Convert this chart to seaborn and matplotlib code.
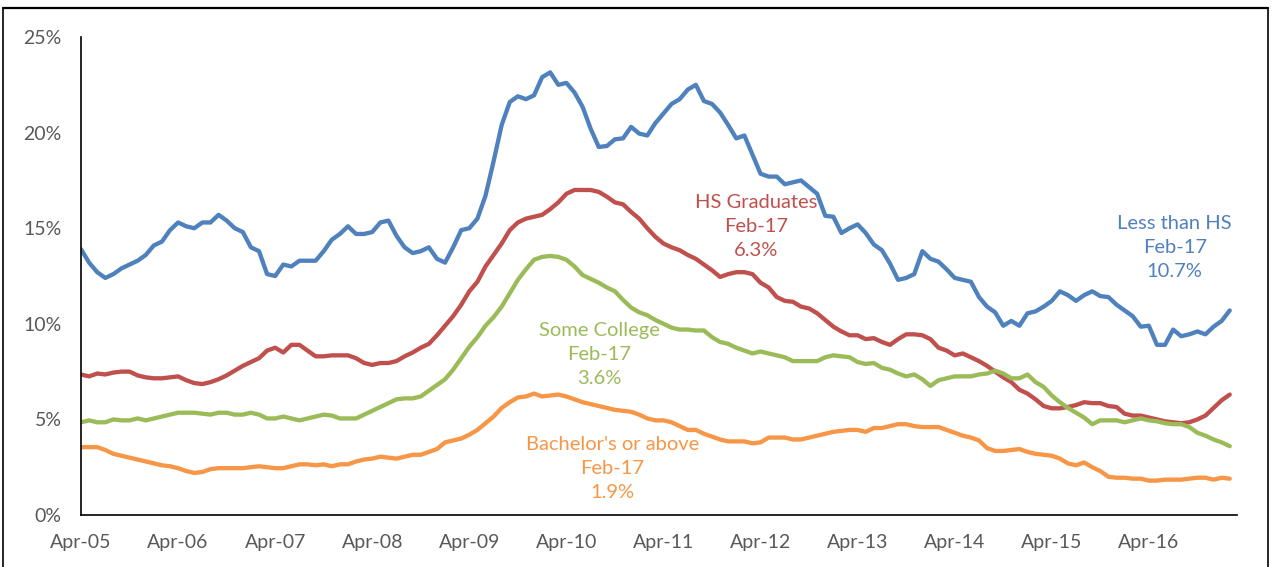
import matplotlib
matplotlib.use('Agg')
import matplotlib.pyplot as plt
from matplotlib.lines import Line2D
import pandas as pd
import seaborn as sns

# ── 1. Data (monthly unemployment rate, %, Apr-05 .. Feb-17) ─────────
less_than_hs = [
    13.9, 13.2, 12.7, 12.4, 12.6, 12.9, 13.1, 13.3, 13.6, 14.1, 14.3, 14.9,
    15.3, 15.1, 15.0, 15.3, 15.3, 15.7, 15.4, 15.0, 14.8, 14.0, 13.8, 12.6,
    12.5, 13.1, 13.0, 13.3, 13.3, 13.3, 13.8, 14.4, 14.7, 15.1, 14.7, 14.7,
    14.8, 15.3, 15.4, 14.6, 14.0, 13.7, 13.8, 14.0, 13.4, 13.2, 14.0, 14.9,
    15.0, 15.5, 16.7, 18.5, 20.4, 21.6, 21.9, 21.75, 21.95, 22.9, 23.15, 22.5,
    22.6, 22.1, 21.35, 20.2, 19.25, 19.3, 19.65, 19.7, 20.3, 19.95, 19.85, 20.5,
    21.0, 21.5, 21.75, 22.25, 22.5, 21.65, 21.5, 21.05, 20.4, 19.7, 19.85, 18.85,
    17.85, 17.7, 17.7, 17.3, 17.4, 17.5, 17.15, 16.8, 15.65, 15.6, 14.75, 15.0,
    15.2, 14.75, 14.15, 13.85, 13.15, 12.3, 12.4, 12.6, 13.8, 13.4, 13.25, 12.85,
    12.4, 12.3, 12.2, 11.4, 10.9, 10.6, 9.9, 10.15, 9.9, 10.55, 10.65, 10.9,
    11.2, 11.7, 11.5, 11.2, 11.5, 11.7, 11.45, 11.4, 11.0, 10.7, 10.4, 9.85,
    9.9, 8.9, 8.9, 9.7, 9.35, 9.45, 9.6, 9.45, 9.85, 10.15, 10.7,
]
hs_graduates = [
    7.35, 7.25, 7.4, 7.35, 7.45, 7.5, 7.5, 7.3, 7.2, 7.15, 7.15, 7.2,
    7.25, 7.05, 6.9, 6.85, 6.95, 7.1, 7.3, 7.55, 7.8, 8.0, 8.2, 8.6,
    8.75, 8.5, 8.9, 8.9, 8.6, 8.3, 8.3, 8.35, 8.35, 8.35, 8.2, 7.95,
    7.85, 7.95, 7.95, 8.05, 8.3, 8.5, 8.75, 8.95, 9.4, 9.9, 10.4, 11.0,
    11.7, 12.2, 13.0, 13.6, 14.2, 14.9, 15.3, 15.5, 15.6, 15.7, 16.0, 16.35,
    16.8, 17.0, 17.0, 17.0, 16.9, 16.65, 16.35, 16.25, 15.85, 15.5, 15.0, 14.55,
    14.2, 14.0, 13.85, 13.6, 13.4, 13.1, 12.8, 12.45, 12.6, 12.7, 12.7, 12.6,
    12.15, 11.9, 11.4, 11.2, 11.15, 10.9, 10.8, 10.55, 10.2, 9.85, 9.6, 9.4,
    9.4, 9.2, 9.25, 9.05, 8.9, 9.2, 9.45, 9.45, 9.4, 9.2, 8.75, 8.6,
    8.35, 8.45, 8.25, 8.05, 7.8, 7.5, 7.2, 6.95, 6.55, 6.35, 6.05, 5.7,
    5.58, 5.58, 5.65, 5.75, 5.9, 5.85, 5.85, 5.7, 5.65, 5.3, 5.2, 5.2,
    5.1, 5.0, 4.9, 4.85, 4.8, 4.85, 5.0, 5.2, 5.6, 6.0, 6.3,
]
some_college = [
    4.85, 4.95, 4.85, 4.85, 5.0, 4.95, 4.95, 5.05, 4.95, 5.05, 5.15, 5.25,
    5.35, 5.35, 5.35, 5.3, 5.25, 5.35, 5.35, 5.25, 5.25, 5.35, 5.25, 5.05,
    5.05, 5.15, 5.05, 4.95, 5.05, 5.15, 5.25, 5.2, 5.05, 5.05, 5.05, 5.25,
    5.45, 5.65, 5.85, 6.05, 6.1, 6.1, 6.2, 6.5, 6.8, 7.1, 7.6, 8.2,
    8.8, 9.3, 9.9, 10.35, 10.9, 11.6, 12.3, 12.85, 13.35, 13.5, 13.55, 13.5,
    13.35, 13.0, 12.55, 12.35, 12.15, 11.9, 11.7, 11.25, 10.85, 10.6, 10.45, 10.2,
    10.0, 9.8, 9.7, 9.7, 9.65, 9.65, 9.3, 9.05, 8.95, 8.75, 8.6, 8.45,
    8.55, 8.45, 8.35, 8.25, 8.05, 8.05, 8.05, 8.05, 8.25, 8.35, 8.3, 8.25,
    8.0, 7.9, 7.95, 7.7, 7.6, 7.4, 7.25, 7.35, 7.1, 6.75, 7.05, 7.15,
    7.25, 7.25, 7.25, 7.35, 7.4, 7.55, 7.4, 7.15, 7.15, 7.35, 6.95, 6.7,
    6.25, 5.9, 5.6, 5.35, 5.1, 4.75, 4.95, 4.95, 4.95, 4.85, 4.95, 5.05,
    4.95, 4.9, 4.8, 4.75, 4.75, 4.6, 4.3, 4.15, 3.95, 3.8, 3.6,
]
bachelors = [
    3.55, 3.55, 3.55, 3.4, 3.2, 3.1, 3.0, 2.9, 2.8, 2.7, 2.6, 2.55,
    2.45, 2.3, 2.2, 2.25, 2.4, 2.45, 2.45, 2.45, 2.45, 2.5, 2.55, 2.5,
    2.45, 2.45, 2.55, 2.65, 2.65, 2.6, 2.65, 2.55, 2.65, 2.65, 2.8, 2.9,
    2.95, 3.05, 3.0, 2.95, 3.05, 3.15, 3.15, 3.3, 3.45, 3.8, 3.9, 4.0,
    4.2, 4.45, 4.8, 5.15, 5.6, 5.9, 6.15, 6.2, 6.35, 6.2, 6.25, 6.3,
    6.2, 6.05, 5.9, 5.8, 5.7, 5.6, 5.5, 5.45, 5.4, 5.25, 5.05, 4.95,
    4.95, 4.85, 4.65, 4.45, 4.45, 4.25, 4.1, 3.95, 3.85, 3.85, 3.85, 3.75,
    3.8, 4.05, 4.05, 4.05, 3.95, 3.95, 4.05, 4.15, 4.25, 4.35, 4.4, 4.45,
    4.45, 4.35, 4.55, 4.55, 4.65, 4.75, 4.75, 4.65, 4.6, 4.6, 4.6, 4.45,
    4.3, 4.15, 4.05, 3.9, 3.5, 3.35, 3.35, 3.4, 3.45, 3.3, 3.2, 3.15,
    3.1, 2.95, 2.7, 2.6, 2.75, 2.5, 2.3, 2.0, 1.95, 1.95, 1.9, 1.9,
    1.8, 1.8, 1.85, 1.85, 1.85, 1.9, 1.95, 1.95, 1.85, 1.95, 1.9,
]

series_names = ['Less than HS', 'HS Graduates', 'Some College', "Bachelor's or above"]
series_colors = ['#4F81BD', '#C0504D', '#9BBB59', '#F79646']
last_labels = ['10.7%', '6.3%', '3.6%', '1.9%']

x_tick_labels = ['Apr-05', 'Apr-06', 'Apr-07', 'Apr-08', 'Apr-09', 'Apr-10',
                 'Apr-11', 'Apr-12', 'Apr-13', 'Apr-14', 'Apr-15', 'Apr-16']
y_ticks = [0, 5, 10, 15, 20, 25]
y_tick_labels = ['0%', '5%', '10%', '15%', '20%', '25%']

# ── 2. Long-form table ──────────────────────────────────────────────
frames = []
for name, vals in zip(series_names, [less_than_hs, hs_graduates, some_college, bachelors]):
    frames.append(pd.DataFrame({'month': range(len(vals)), 'rate': vals, 'series': name}))
df = pd.concat(frames, ignore_index=True)

# ── 3. Plot ─────────────────────────────────────────────────────────
sns.set_style('white')
plt.rcParams['font.family'] = ['Lato', 'DejaVu Sans']

fig = plt.figure(figsize=(12.72, 5.67), dpi=100)
ax = fig.add_axes([0.0637, 0.0917, 0.9088, 0.843])

sns.lineplot(data=df, x='month', y='rate', hue='series', hue_order=series_names,
             palette=series_colors, linewidth=3.1, legend=False, ax=ax)

ax.set_xlim(0, 142.9)
ax.set_ylim(0, 25)
ax.set_xticks(range(0, 12 * len(x_tick_labels), 12))
ax.set_xticklabels(x_tick_labels)
ax.set_yticks(y_ticks)
ax.set_yticklabels(y_tick_labels)
ax.set_xlabel('')
ax.set_ylabel('')

for side in ['top', 'right']:
    ax.spines[side].set_visible(False)
for side in ['left', 'bottom']:
    ax.spines[side].set_color('black')
    ax.spines[side].set_linewidth(1.2)

ax.tick_params(axis='both', direction='out', length=6, width=1.2, color='black',
               labelcolor='#595959', labelsize=14, pad=8)

# ── 4. End-value annotations ────────────────────────────────────────
label_pos = [(135.2, 14.0), (83.5, 15.1), (64.1, 8.37), (65.7, 2.41)]
for name, col, val, (lx, ly) in zip(series_names, series_colors, last_labels, label_pos):
    ax.text(lx, ly, f'{name}\nFeb-17\n{val}', color=col, fontsize=14.5,
            ha='center', va='center', linespacing=1.5)

# ── 5. Frame around the (cropped) chart ─────────────────────────────
fig.add_artist(Line2D([3 / 1272, 1268 / 1272], [1 - 8 / 567, 1 - 8 / 567],
                      color='black', linewidth=1.6, transform=fig.transFigure))
fig.add_artist(Line2D([3 / 1272, 3 / 1272], [0, 1 - 8 / 567],
                      color='black', linewidth=1.2, transform=fig.transFigure))
fig.add_artist(Line2D([1268 / 1272, 1268 / 1272], [0, 1 - 8 / 567],
                      color='black', linewidth=1.2, transform=fig.transFigure))

fig.savefig('out.png', dpi=100)
plt.close(fig)
